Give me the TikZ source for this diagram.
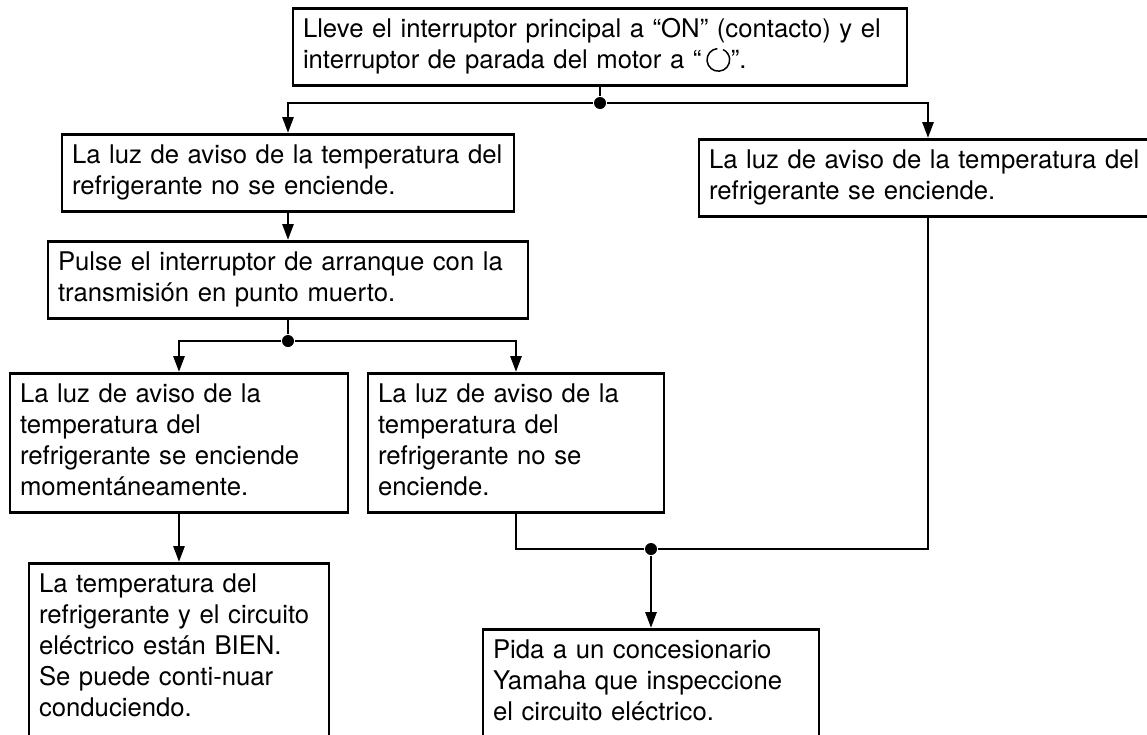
\documentclass[tikz,border=0pt]{standalone}
\usepackage{fontspec}
\setmainfont{TeX Gyre Heros}
\usetikzlibrary{arrows.meta}
\newcommand{\stopsym}{\tikz[baseline=0pt,x=1pt,y=1pt]\draw[line width=1.5pt] (0,0.34em) ++(95:0.44em) arc[start angle=95,end angle=425,radius=0.44em];}
\tikzset{
  box/.style={draw, line width=2.8pt, align=left, inner xsep=10pt, inner ysep=7.5pt,
    anchor=north, font=\fontsize{25.7pt}{31pt}\selectfont,
    execute at begin node=\strut, execute at end node=\strut},
  arr/.style={-{Triangle[length=16pt,width=11pt]}},
  dot/.style={circle, fill, inner sep=0pt, minimum size=12pt},
}
\begin{document}
\begin{tikzpicture}[x=1pt,y=-1pt,line width=2.8pt]
			\useasboundingbox (0,0) rectangle (1147,734);
			\clip (0,0) rectangle (1147,734);
			\node[box, text width=594pt] (start) at (600,7) {Lleve el interruptor principal a “ON” (contacto) y el\\interruptor de parada del motor a “\,\stopsym”.};
			\node[dot] (j1) at (600,103) {};
			\node[box, text width=432pt] (nolight) at (288,133) {La luz de aviso de la temperatura del\\refrigerante no se enciende.};
			\node[box, text width=438pt] (light) at (928,138) {La luz de aviso de la temperatura del\\refrigerante se enciende.};
			\node[box, text width=460pt] (press) at (288,240) {Pulse el interruptor de arranque con la\\transmisión en punto muerto.};
			\node[dot] (j2) at (288,341) {};
			\node[box, text width=318pt] (flash) at (179,372) {La luz de aviso de la\\temperatura del\\refrigerante se enciende\\momentáneamente.};
			\node[box, text width=276pt] (nolight2) at (516,372) {La luz de aviso de la\\temperatura del\\refrigerante no se\\enciende.};
			\node[box, text width=280pt] (ok) at (179,562) {La temperatura del\\refrigerante y el circuito\\eléctrico están BIEN.\\Se puede conti-nuar\\conduciendo.\\};
			\node[dot] (j3) at (651,549) {};
			\node[box, text width=316pt] (dealer) at (651,628) {Pida a un concesionario\\Yamaha que inspeccione\\el circuito eléctrico.};
			\draw (start.south) -- (j1);
			\draw[arr] (j1) -| (nolight.north);
			\draw[arr] (j1) -| (light.north);
			\draw[arr] (nolight.south) -- (press.north);
			\draw (press.south) -- (j2);
			\draw[arr] (j2) -| (flash.north);
			\draw[arr] (j2) -| (nolight2.north);
			\draw[arr] (flash.south) -- (ok.north);
			\draw (nolight2.south) |- (j3) -| (light.south);
			\draw[arr] (j3) -- (dealer.north);
		\end{tikzpicture}
\end{document}
